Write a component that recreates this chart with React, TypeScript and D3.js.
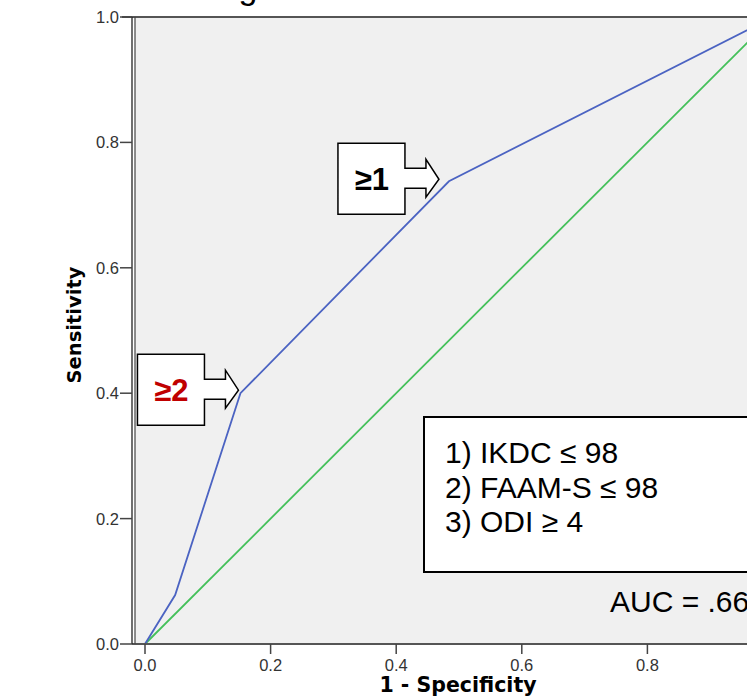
import React from 'react';
import * as d3 from 'd3';

// ROC curve values
const rocFpr = [0, 0.048, 0.152, 0.484, 1];
const rocTpr = [0, 0.078, 0.4, 0.738, 1];
const refFpr = [0, 1];
const refTpr = [0, 1];
const xTicks = [0, 0.2, 0.4, 0.6, 0.8];
const yTicks = [0, 0.2, 0.4, 0.6, 0.8, 1.0];
const criteria = ['1) IKDC ≤ 98', '2) FAAM-S ≤ 98', '3) ODI ≥ 4'];
const aucLabel = 'AUC = .66';

const W = 747;
const H = 700;

const App: React.FC = () => {
  const x = d3.scaleLinear().domain([0, 1]).range([145, 773]);
  const y = d3.scaleLinear().domain([0, 1]).range([644, 17]);

  const path = d3.line<[number, number]>().x((d) => x(d[0])).y((d) => y(d[1]));
  const rocPath = path(rocFpr.map((f, i) => [f, rocTpr[i]] as [number, number]));
  const refPath = path(refFpr.map((f, i) => [f, refTpr[i]] as [number, number]));

  // arrow callout: box to the left, arrow pointing right to (tx, ty)
  const callout = (tx: number, ty: number) => {
    const bl = tx - 101, br = tx - 34, bt = ty - 36, bb = ty + 35;
    return `M${bl},${bt}H${br}V${ty - 11}H${tx - 13}V${ty - 20}L${tx},${ty}L${tx - 13},${ty + 18}V${ty + 9}H${br}V${bb}H${bl}Z`;
  };

  const c1 = { tx: x(rocFpr[3]) - 10, ty: y(rocTpr[3]) - 2 };
  const c2 = { tx: x(rocFpr[2]) - 2, ty: y(rocTpr[2]) - 3 };

  const axisX = 132;
  const frameLeft = 135;
  const frameTop = y(1);
  const frameBottom = y(0);

  return (
    <svg
      width={W}
      height={H}
      style={{ position: 'absolute', left: 0, top: 0, background: '#fff' }}
      fontFamily="'Liberation Sans', Arial, sans-serif"
    >
      {/* cut-off title descender */}
      <text x={248} y={-1} fontSize={34} textAnchor="middle" fill="#000">g</text>

      <rect x={frameLeft} y={frameTop} width={W} height={frameBottom - frameTop} fill="#f0f0f0" />

      {/* reference diagonal and ROC curve */}
      <path d={refPath || ''} fill="none" stroke="#44c05a" strokeWidth={1.8} />
      <path d={rocPath || ''} fill="none" stroke="#4b63c2" strokeWidth={1.8} />

      {/* frame */}
      <line x1={axisX - 10} x2={W} y1={frameTop} y2={frameTop} stroke="#555" strokeWidth={2} />
      <line x1={axisX} x2={W} y1={frameBottom} y2={frameBottom} stroke="#555" strokeWidth={2} />
      <line x1={axisX} x2={axisX} y1={frameTop} y2={frameBottom} stroke="#222" strokeWidth={1.3} />
      <line x1={frameLeft} x2={frameLeft} y1={frameTop} y2={frameBottom} stroke="#444" strokeWidth={1.2} />

      {/* y axis */}
      {yTicks.map((t) => (
        <g key={'y' + t}>
          <line x1={axisX - 12} x2={axisX} y1={y(t)} y2={y(t)} stroke="#444" strokeWidth={1.5} />
          <text x={axisX - 13} y={y(t) + 6} fontSize={16.5} textAnchor="end" fill="#333">
            {t.toFixed(1)}
          </text>
        </g>
      ))}
      {/* x axis */}
      {xTicks.map((t) => (
        <g key={'x' + t}>
          <line x1={x(t)} x2={x(t)} y1={frameBottom} y2={frameBottom + 10} stroke="#444" strokeWidth={1.5} />
          <text x={x(t)} y={frameBottom + 27} fontSize={16.5} textAnchor="middle" fill="#333">
            {t.toFixed(1)}
          </text>
        </g>
      ))}

      <text
        x={458}
        y={692}
        fontSize={20.5}
        fontWeight="bold"
        textAnchor="middle"
        fontFamily="'DejaVu Sans', sans-serif"
        fill="#000"
      >
        1 - Specificity
      </text>
      <text
        transform="translate(81,325) rotate(-90)"
        fontSize={19.5}
        fontWeight="bold"
        textAnchor="middle"
        fontFamily="'DejaVu Sans', sans-serif"
        fill="#000"
      >
        Sensitivity
      </text>

      {/* callouts */}
      <path d={callout(c1.tx, c1.ty)} fill="#fff" stroke="#000" strokeWidth={1.5} />
      <text x={c1.tx - 67} y={c1.ty + 11} fontSize={31} fontWeight="bold" textAnchor="middle" fill="#000">
        ≥1
      </text>
      <path d={callout(c2.tx, c2.ty)} fill="#fff" stroke="#000" strokeWidth={1.5} />
      <text x={c2.tx - 67} y={c2.ty + 11} fontSize={31} fontWeight="bold" textAnchor="middle" fill="#c00000">
        ≥2
      </text>

      {/* criteria box */}
      <rect x={424} y={417} width={W} height={155} fill="#fff" stroke="#000" strokeWidth={2} />
      {criteria.map((c, i) => (
        <text key={c} x={445} y={463 + i * 34.5} fontSize={30} fill="#000">
          {c}
        </text>
      ))}
      <text x={610} y={612} fontSize={30} fill="#000">
        {aucLabel}
      </text>
    </svg>
  );
};

export default App;
